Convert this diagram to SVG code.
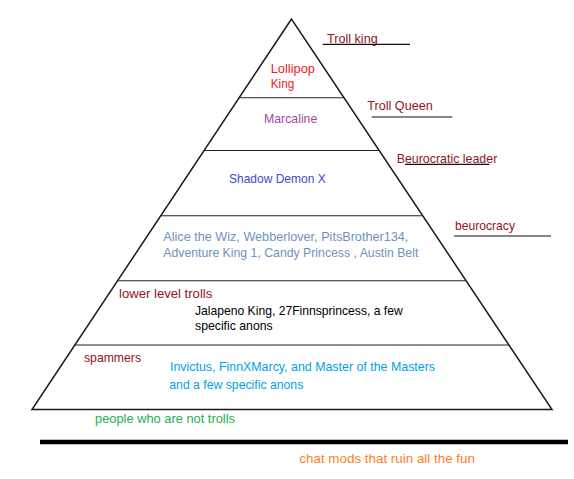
<svg xmlns="http://www.w3.org/2000/svg" width="574" height="479" viewBox="0 0 574 479">
<style>
text{font-family:"Liberation Sans",Arial,sans-serif;font-size:13px}
.lbl{fill:#8f1424}
.ul{stroke:#111;stroke-width:1.2}
.div{stroke:#222;stroke-width:1.1}
</style>
<rect width="574" height="479" fill="#fff"/>
<g id="pyramid">
<polygon points="291.5,19 32,409.5 552,409.5" fill="none" stroke="#1a1a1a" stroke-width="1.5" stroke-linejoin="miter"/>
<line class="div" x1="238.7" y1="97.7" x2="343.7" y2="97.7"/>
<line class="div" x1="203.7" y1="150.5" x2="379" y2="150.5"/>
<line class="div" x1="160.4" y1="215.7" x2="422.6" y2="215.7"/>
<line class="div" x1="117.2" y1="280.7" x2="466" y2="280.7"/>
<line class="div" x1="74.3" y1="345" x2="509.3" y2="345"/>
</g>
<g id="tier-king"><text x="270.7" y="73" fill="#ed1c24" textLength="44.3" lengthAdjust="spacingAndGlyphs">Lollipop</text><text x="270.7" y="88" fill="#ed1c24" textLength="23.6" lengthAdjust="spacingAndGlyphs">King</text></g>
<g id="tier-queen"><text x="264" y="122.5" fill="#a349a4" textLength="53.3" lengthAdjust="spacingAndGlyphs">Marcaline</text></g>
<g id="tier-leader"><text x="229" y="183" fill="#3f48cc" textLength="96.7" lengthAdjust="spacingAndGlyphs">Shadow Demon X</text></g>
<g id="tier-beurocracy"><text x="163.3" y="241" fill="#7092be" textLength="245" lengthAdjust="spacingAndGlyphs">Alice the Wiz, Webberlover, PitsBrother134,</text><text x="163.3" y="257" fill="#7092be" textLength="255" lengthAdjust="spacingAndGlyphs">Adventure King 1, Candy Princess , Austin Belt</text></g>
<g id="tier-lower"><text class="lbl" x="119" y="298" textLength="93.3" lengthAdjust="spacingAndGlyphs">lower level trolls</text><text x="195" y="315" fill="#000" textLength="207.7" lengthAdjust="spacingAndGlyphs">Jalapeno King, 27Finnsprincess, a few</text><text x="195" y="330" fill="#000" textLength="77.7" lengthAdjust="spacingAndGlyphs">specific anons</text></g>
<g id="tier-spammers"><text class="lbl" x="84" y="362" textLength="57" lengthAdjust="spacingAndGlyphs">spammers</text><text x="170" y="371" fill="#00a2e8" textLength="265" lengthAdjust="spacingAndGlyphs">Invictus, FinnXMarcy, and Master of the Masters</text><text x="169.3" y="389" fill="#00a2e8" textLength="134" lengthAdjust="spacingAndGlyphs">and a few specific anons</text></g>
<g id="not-trolls"><text x="95" y="423.3" fill="#22b14c" textLength="140" lengthAdjust="spacingAndGlyphs">people who are not trolls</text></g>
<g id="mods-line"><line x1="40" y1="442" x2="568" y2="442" stroke="#000" stroke-width="4.3"/></g>
<g id="chat-mods"><text x="299.3" y="463.3" fill="#ff7f27" textLength="175.7" lengthAdjust="spacingAndGlyphs">chat mods that ruin all the fun</text></g>
<g id="labels">
<g id="label-troll-king"><text class="lbl" x="327" y="43" textLength="50.7" lengthAdjust="spacingAndGlyphs">Troll king</text><line class="ul" x1="322.7" y1="44.3" x2="410" y2="44.3"/></g>
<g id="label-troll-queen"><text class="lbl" x="367.3" y="110" textLength="65.4" lengthAdjust="spacingAndGlyphs">Troll Queen</text><line class="ul" x1="371.7" y1="117" x2="452.3" y2="117"/></g>
<g id="label-leader"><text class="lbl" x="396.7" y="162.5" textLength="100.6" lengthAdjust="spacingAndGlyphs">Beurocratic leader</text><line class="ul" x1="405" y1="164.3" x2="489.3" y2="164.3"/></g>
<g id="label-beurocracy"><text class="lbl" x="455" y="230" textLength="60" lengthAdjust="spacingAndGlyphs">beurocracy</text><line class="ul" x1="454" y1="236" x2="551" y2="236"/></g>
</g>
</svg>
